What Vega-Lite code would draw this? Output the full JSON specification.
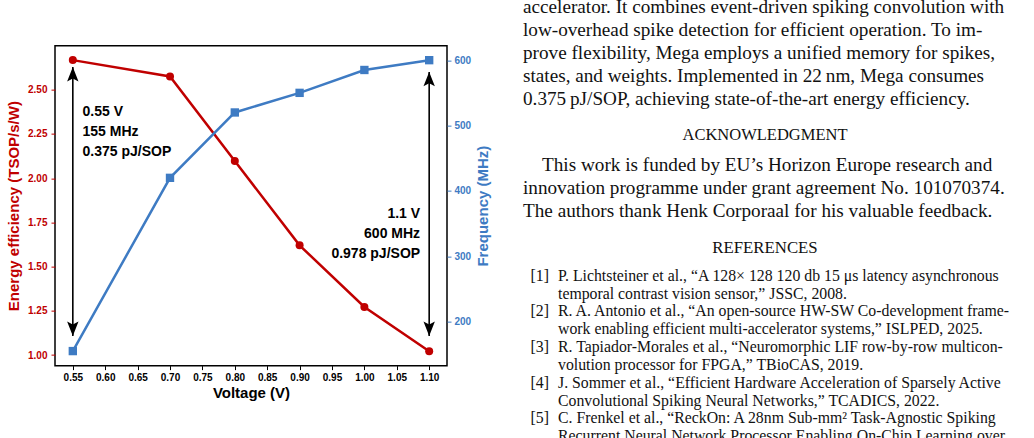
{
  "$schema": "https://vega.github.io/schema/vega-lite/v6.json",
  "background": "white",
  "padding": {"left": 5, "top": -4.5, "right": 0, "bottom": 0},
  "config": {
    "view": {"stroke": null},
    "font": "Liberation Sans",
    "axis": {
      "grid": false,
      "domain": false,
      "ticks": true,
      "tickSize": 4,
      "tickWidth": 1,
      "labelOverlap": false,
      "labelFont": "Liberation Sans",
      "labelFontWeight": "bold",
      "labelFontSize": 10,
      "titleFont": "Liberation Sans",
      "titleFontWeight": "bold",
      "titleFontSize": 15
    }
  },
  "datasets": {
    "volt": [
      {"v": 0.55, "eff": 2.667, "freq": 155},
      {"v": 0.70, "eff": 2.575, "freq": 420},
      {"v": 0.80, "eff": 2.097, "freq": 520},
      {"v": 0.90, "eff": 1.620, "freq": 550},
      {"v": 1.00, "eff": 1.272, "freq": 585},
      {"v": 1.10, "eff": 1.022, "freq": 600}
    ],
    "arrows": [
      {"v": 0.55, "lo": 1.108, "hi": 2.628},
      {"v": 1.10, "lo": 1.108, "hi": 2.600}
    ],
    "body": [
      {"n": 0, "t": "accelerator. It combines event-driven spiking convolution with"},
      {"n": 1, "t": "low-overhead spike detection for efficient operation. To im-"},
      {"n": 2, "t": "prove flexibility, Mega employs a unified memory for spikes,"},
      {"n": 3, "t": "states, and weights. Implemented in 22\u2009nm, Mega consumes"},
      {"n": 4, "t": "0.375\u2009pJ/SOP, achieving state-of-the-art energy efficiency."}
    ],
    "ack": [
      {"n": 0, "t": "This work is funded by EU’s Horizon Europe research and"},
      {"n": 1, "t": "innovation programme under grant agreement No. 101070374."},
      {"n": 2, "t": "The authors thank Henk Corporaal for his valuable feedback."}
    ],
    "refs": [
      {"n": 0, "num": "[1]", "t": "P. Lichtsteiner et al., “A 128× 128 120 db 15 μs latency asynchronous"},
      {"n": 1, "t": "temporal contrast vision sensor,” JSSC, 2008."},
      {"n": 2, "num": "[2]", "t": "R. A. Antonio et al., “An open-source HW-SW Co-development frame-"},
      {"n": 3, "t": "work enabling efficient multi-accelerator systems,” ISLPED, 2025."},
      {"n": 4, "num": "[3]", "t": "R. Tapiador-Morales et al., “Neuromorphic LIF row-by-row multicon-"},
      {"n": 5, "t": "volution processor for FPGA,” TBioCAS, 2019."},
      {"n": 6, "num": "[4]", "t": "J. Sommer et al., “Efficient Hardware Acceleration of Sparsely Active"},
      {"n": 7, "t": "Convolutional Spiking Neural Networks,” TCADICS, 2022."},
      {"n": 8, "num": "[5]", "t": "C. Frenkel et al., “ReckOn: A 28nm Sub-mm² Task-Agnostic Spiking"},
      {"n": 9, "t": "Recurrent Neural Network Processor Enabling On-Chip Learning over"}
    ]
  },
  "hconcat": [
    {
      "width": 392,
      "height": 320,
      "view": {"stroke": "#000000", "strokeWidth": 1.5},
      "encoding": {
        "x": {
          "field": "v", "type": "quantitative",
          "scale": {"domain": [0.5225, 1.1275], "nice": false, "zero": false},
          "axis": {
            "title": "Voltage (V)",
            "values": [0.55, 0.6, 0.65, 0.7, 0.75, 0.8, 0.85, 0.9, 0.95, 1.0, 1.05, 1.1],
            "format": ".2f",
            "labelOverlap": false,
            "labelSeparation": 0,
            "labelFlush": false,
            "labelColor": "#000000",
            "tickColor": "#000000",
            "titleColor": "#000000",
            "labelPadding": 3,
            "titlePadding": 3
          }
        }
      },
      "layer": [
        {
          "encoding": {
            "y": {
              "field": "eff", "type": "quantitative",
              "scale": {"domain": [0.9403, 2.7489], "nice": false, "zero": false},
              "axis": {
                "title": "Energy efficiency (TSOP/s/W)",
                "values": [1.0, 1.25, 1.5, 1.75, 2.0, 2.25, 2.5],
                "format": ".2f",
                "labelColor": "#C00000",
                "tickColor": "#C00000",
                "titleColor": "#C00000",
                "labelPadding": 4,
                "titlePadding": 6
              }
            }
          },
          "layer": [
            {
              "data": {"name": "volt"},
              "mark": {"type": "line", "color": "#C00000", "strokeWidth": 2.5}
            },
            {
              "data": {"name": "volt"},
              "mark": {"type": "point", "shape": "circle", "filled": true, "opacity": 1, "size": 64, "color": "#C00000"}
            },
            {
              "data": {"name": "arrows"},
              "mark": {"type": "rule", "color": "#000000", "strokeWidth": 1.6},
              "encoding": {
                "y": {"field": "lo", "type": "quantitative", "scale": {"domain": [0.9403, 2.7489], "nice": false, "zero": false}, "title": "Energy efficiency (TSOP/s/W)"},
                "y2": {"field": "hi"}
              }
            },
            {
              "data": {"name": "arrows"},
              "mark": {"type": "point", "shape": "M0,0 L0.95,2.4 L0,1.9 L-0.95,2.4 Z", "filled": true, "opacity": 1, "size": 144, "color": "#000000"},
              "encoding": {
                "y": {"field": "hi", "type": "quantitative", "scale": {"domain": [0.9403, 2.7489], "nice": false, "zero": false}, "title": "Energy efficiency (TSOP/s/W)"}
              }
            },
            {
              "data": {"name": "arrows"},
              "mark": {"type": "point", "shape": "M0,0 L0.95,-2.4 L0,-1.9 L-0.95,-2.4 Z", "filled": true, "opacity": 1, "size": 144, "color": "#000000"},
              "encoding": {
                "y": {"field": "lo", "type": "quantitative", "scale": {"domain": [0.9403, 2.7489], "nice": false, "zero": false}, "title": "Energy efficiency (TSOP/s/W)"}
              }
            },
            {
              "data": {"values": [{"v": 0.565, "eff": 2.373, "label": "0.55 V\n155 MHz\n0.375 pJ/SOP"}]},
              "mark": {"type": "text", "align": "left", "baseline": "middle", "lineBreak": "\n", "lineHeight": 20, "font": "Liberation Sans", "fontWeight": "bold", "fontSize": 14, "color": "#000000"},
              "encoding": {
                "text": {"field": "label"}
              }
            },
            {
              "data": {"values": [{"v": 1.086, "eff": 1.80, "label": "1.1 V\n600 MHz\n0.978 pJ/SOP"}]},
              "mark": {"type": "text", "align": "right", "baseline": "middle", "lineBreak": "\n", "lineHeight": 20, "font": "Liberation Sans", "fontWeight": "bold", "fontSize": 14, "color": "#000000"},
              "encoding": {
                "text": {"field": "label"}
              }
            }
          ]
        },
        {
          "data": {"name": "volt"},
          "encoding": {
            "y": {
              "field": "freq", "type": "quantitative",
              "scale": {"domain": [132.75, 622.25], "nice": false, "zero": false},
              "axis": {
                "orient": "right",
                "title": "Frequency (MHz)",
                "titleAngle": 270,
                "titleBaseline": "top",
                "values": [200, 300, 400, 500, 600],
                "labelColor": "#3E7BC3",
                "tickColor": "#3E7BC3",
                "titleColor": "#3E7BC3",
                "labelPadding": 3,
                "titlePadding": 5
              }
            }
          },
          "layer": [
            {
              "mark": {"type": "line", "color": "#3E7BC3", "strokeWidth": 2.5}
            },
            {
              "mark": {"type": "point", "shape": "square", "filled": true, "opacity": 1, "size": 70, "color": "#3E7BC3"}
            }
          ]
        }
      ],
      "resolve": {"scale": {"y": "independent"}, "axis": {"y": "independent"}}
    },
    {
      "vconcat": [
        {
          "width": 484,
          "height": 114.25,
          "data": {"name": "body"},
          "mark": {"type": "text", "align": "left", "baseline": "middle", "font": "Liberation Serif", "fontSize": 19.2, "color": "#111111"},
          "encoding": {
            "x": {"datum": 0, "type": "quantitative", "scale": {"domain": [0, 1]}, "axis": null},
            "y": {"field": "n", "type": "ordinal", "axis": null},
            "text": {"field": "t"}
          }
        },
        {
          "width": 484,
          "height": 42.9,
          "data": {"values": [{"t": "ACKNOWLEDGMENT"}]},
          "mark": {"type": "text", "align": "center", "baseline": "middle", "dy": 3, "font": "Liberation Serif", "fontSize": 16.5, "color": "#111111"},
          "encoding": {
            "x": {"datum": 0.5, "type": "quantitative", "scale": {"domain": [0, 1]}, "axis": null},
            "text": {"field": "t"}
          }
        },
        {
          "width": 484,
          "height": 68.55,
          "data": {"name": "ack"},
          "layer": [
            {
              "transform": [{"filter": "datum.n == 0"}],
              "mark": {"type": "text", "align": "left", "baseline": "middle", "font": "Liberation Serif", "fontSize": 19.2, "color": "#111111"},
              "encoding": {
                "x": {"datum": 0.0393, "type": "quantitative", "scale": {"domain": [0, 1]}, "axis": null},
                "y": {"field": "n", "type": "ordinal", "axis": null},
                "text": {"field": "t"}
              }
            },
            {
              "transform": [{"filter": "datum.n > 0"}],
              "mark": {"type": "text", "align": "left", "baseline": "middle", "font": "Liberation Serif", "fontSize": 19.2, "color": "#111111"},
              "encoding": {
                "x": {"datum": 0, "type": "quantitative", "scale": {"domain": [0, 1]}, "axis": null},
                "y": {"field": "n", "type": "ordinal", "axis": null},
                "text": {"field": "t"}
              }
            }
          ]
        },
        {
          "width": 484,
          "height": 43.77,
          "data": {"values": [{"t": "REFERENCES"}]},
          "mark": {"type": "text", "align": "center", "baseline": "middle", "dy": 3, "font": "Liberation Serif", "fontSize": 16.8, "color": "#111111"},
          "encoding": {
            "x": {"datum": 0.5, "type": "quantitative", "scale": {"domain": [0, 1]}, "axis": null},
            "text": {"field": "t"}
          }
        },
        {
          "width": 484,
          "height": 184.5,
          "data": {"name": "refs"},
          "layer": [
            {
              "transform": [{"filter": "isValid(datum.num)"}],
              "mark": {"type": "text", "align": "left", "baseline": "middle", "font": "Liberation Serif", "fontSize": 15.8, "color": "#111111"},
              "encoding": {
                "x": {"datum": 0.0155, "type": "quantitative", "scale": {"domain": [0, 1]}, "axis": null},
                "y": {"field": "n", "type": "ordinal", "axis": null, "scale": {"padding": 0.668, "align": 0.3744}},
                "text": {"field": "num"}
              }
            },
            {
              "mark": {"type": "text", "align": "left", "baseline": "middle", "font": "Liberation Serif", "fontSize": 15.8, "color": "#111111"},
              "encoding": {
                "x": {"datum": 0.0723, "type": "quantitative", "scale": {"domain": [0, 1]}, "axis": null},
                "y": {"field": "n", "type": "ordinal", "axis": null, "scale": {"padding": 0.668, "align": 0.3744}},
                "text": {"field": "t"}
              }
            }
          ]
        }
      ],
      "spacing": 0,
      "bounds": "flush"
    }
  ],
  "spacing": 31,
  "center": true
}
